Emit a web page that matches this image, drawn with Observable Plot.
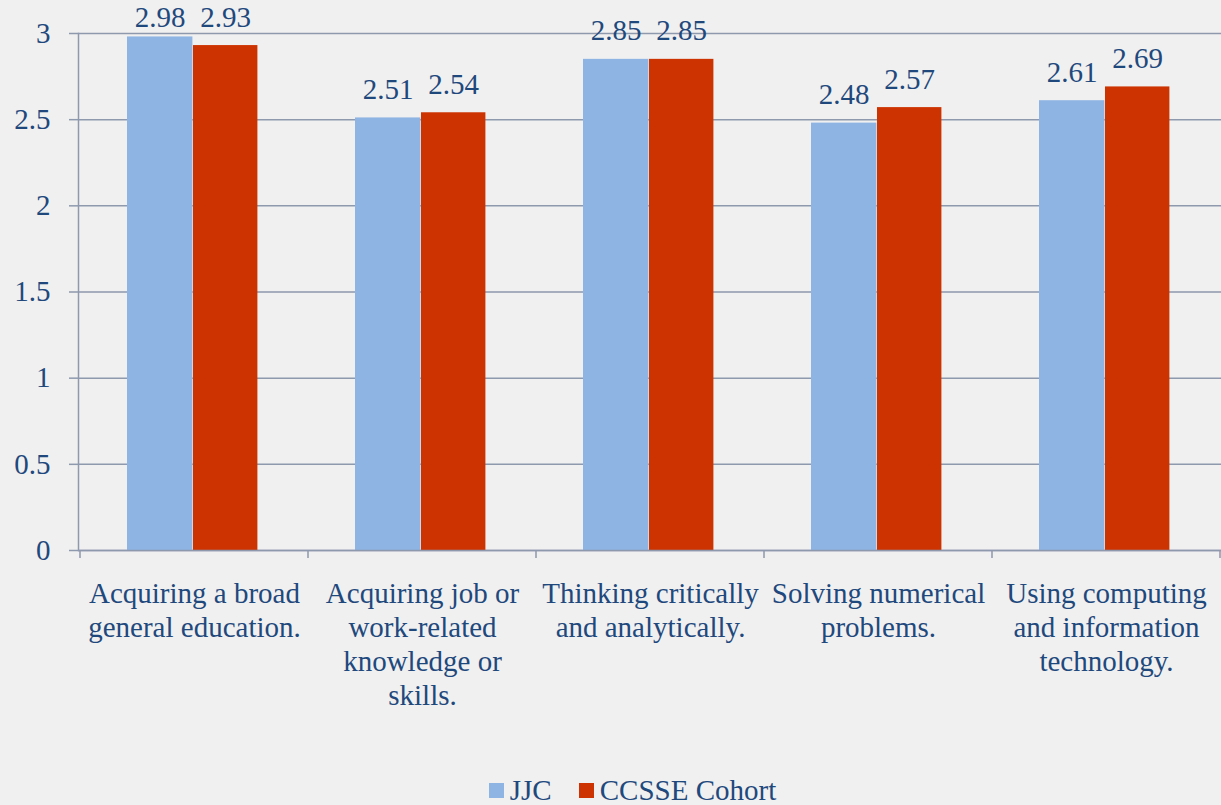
<!DOCTYPE html>
<html>
<head>
<meta charset="utf-8">
<script src="https://cdn.jsdelivr.net/npm/d3@7"></script>
<script src="https://cdn.jsdelivr.net/npm/@observablehq/plot@0.6"></script>
<style>
  html, body { margin: 0; padding: 0; background: #f0f0f0; }
  #chart svg { display: block; background: #f0f0f0; font-family: "Liberation Serif", "Times New Roman", serif; }
  #chart svg text { font-family: "Liberation Serif", "Times New Roman", serif; }
  #legend { height: 30px; display: flex; justify-content: center; align-items: center; padding-left: 44px;
    font-family: "Liberation Serif", "Times New Roman", serif; font-size: 29px; color: #1F497D; }
  .item { display: flex; align-items: center; margin: 0 13.5px; }
  .sw { width: 15px; height: 15px; margin-right: 6px; }
</style>
</head>
<body>
<div id="chart"></div>
<div id="legend"></div>
<script>
const categories = [
  "Acquiring a broad\ngeneral education.",
  "Acquiring job or\nwork-related\nknowledge or\nskills.",
  "Thinking critically\nand analytically.",
  "Solving numerical\nproblems.",
  "Using computing\nand information\ntechnology."
];
const seriesNames = ["JJC", "CCSSE Cohort"];
const jjcValues = [2.98, 2.51, 2.85, 2.48, 2.61];
const cohortValues = [2.93, 2.54, 2.85, 2.57, 2.69];
const yTicks = [0, 0.5, 1, 1.5, 2, 2.5, 3];
const colors = ["#8EB4E3", "#CC3300"];
const labelCap = 2.93; // data labels are kept inside the chart area (as in the source)

const textColor = "#1F497D";
const gridColor = "#8E99AE";
const W = 1221;
const bw = (W - 78) / categories.length;

const jjc = categories.map((c, i) => ({cat: c, value: jjcValues[i]}));
const cohort = categories.map((c, i) => ({cat: c, value: cohortValues[i]}));

const chart = Plot.plot({
  width: W,
  height: 775,
  marginLeft: 78,
  marginRight: 0,
  marginTop: 33,
  marginBottom: 225,
  style: {fontFamily: "Liberation Serif, Times New Roman, serif", fontSize: "29px", color: textColor, background: "#f0f0f0"},
  x: {domain: categories, padding: 0, label: null},
  y: {domain: [0, 3], label: null},
  marks: [
    Plot.gridY(yTicks, {stroke: gridColor, strokeOpacity: 1, strokeWidth: 1.5}),
    Plot.frame({anchor: "left", stroke: gridColor, strokeWidth: 1.5}),
    Plot.barY(jjc, {x: "cat", y: "value", fill: colors[0], insetLeft: 47, insetRight: bw - 113}),
    Plot.barY(cohort, {x: "cat", y: "value", fill: colors[1], insetLeft: 113, insetRight: bw - 178}),
    Plot.text(jjc, {x: "cat", y: d => Math.min(d.value, labelCap), text: d => d.value.toFixed(2), dx: 80 - bw / 2, dy: -19, lineAnchor: "bottom", fill: textColor, fontSize: 29}),
    Plot.text(cohort, {x: "cat", y: d => Math.min(d.value, labelCap), text: d => d.value.toFixed(2), dx: 145.5 - bw / 2, dy: -19, lineAnchor: "bottom", fill: textColor, fontSize: 29}),
    Plot.axisY({ticks: yTicks, tickSize: 9, tickPadding: 19, stroke: gridColor, strokeWidth: 1.5, fill: textColor, tickFormat: d => String(d), label: null, fontSize: 29}),
    Plot.axisX({tickSize: 0, tickPadding: 28, fill: textColor, lineHeight: 1.18, label: null, fontSize: 29}),
    Plot.ruleY([0], {stroke: gridColor, strokeWidth: 1.5})
  ]
});

// category boundary ticks derived from the x band scale
const xs = chart.scale("x");
const ys = chart.scale("y");
const y0 = ys.apply(0);
const bounds = categories.map(c => xs.apply(c)).concat([xs.apply(categories[categories.length - 1]) + xs.bandwidth]);
d3.select(chart).append("g").selectAll("line").data(bounds).join("line")
  .attr("x1", d => d).attr("x2", d => d)
  .attr("y1", y0).attr("y2", y0 + 8)
  .attr("stroke", gridColor).attr("stroke-width", 1.5);

document.getElementById("chart").appendChild(chart);

const legend = document.getElementById("legend");
seriesNames.forEach((name, i) => {
  const item = document.createElement("div");
  item.className = "item";
  const sw = document.createElement("div");
  sw.className = "sw";
  sw.style.background = colors[i];
  const t = document.createElement("span");
  t.textContent = name;
  item.appendChild(sw);
  item.appendChild(t);
  legend.appendChild(item);
});
</script>
</body>
</html>
